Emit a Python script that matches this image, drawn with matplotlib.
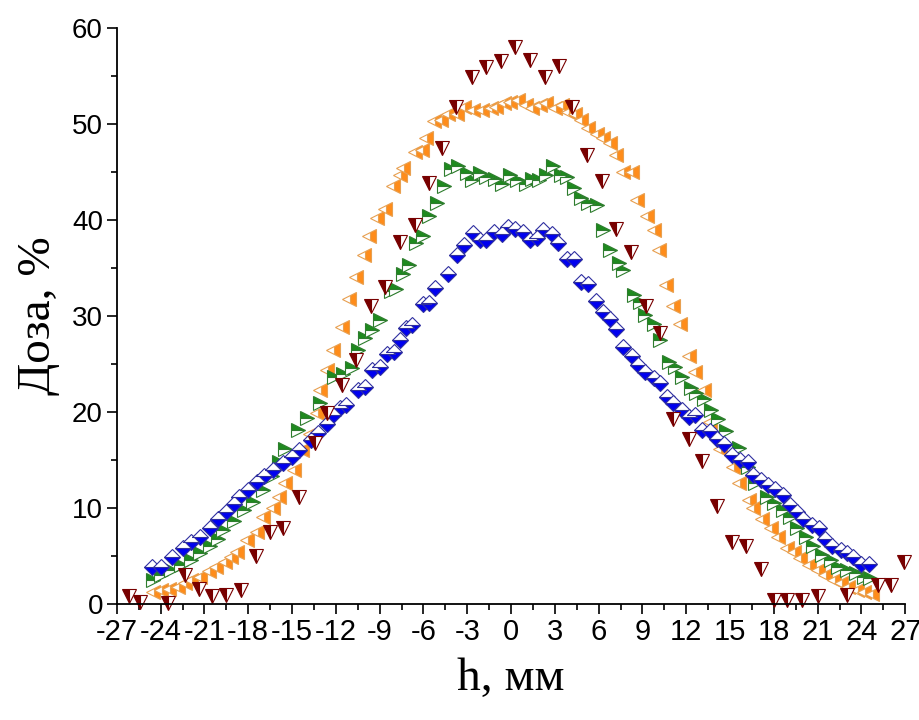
import matplotlib
matplotlib.use("Agg")
import matplotlib.pyplot as plt
from matplotlib.ticker import MultipleLocator

# blue diamonds
blueX = [-24.6, -24.0, -23.2, -22.5, -21.9, -21.3, -20.6, -20.1, -19.5, -19.0,
         -18.6, -18.0, -17.4, -16.9, -16.3, -15.6, -15.0, -14.5, -13.7, -13.2,
         -12.6, -12.2, -11.7, -11.3, -10.5, -10.0, -9.5, -9.0, -8.5, -8.0,
         -7.6, -7.2, -6.8, -6.0, -5.6, -5.2, -4.3, -3.7, -3.2, -2.6,
         -2.1, -1.7, -1.2, -0.6, -0.2, 0.3, 0.8, 1.3, 1.8, 2.2,
         2.8, 3.2, 3.8, 4.3, 4.8, 5.3, 5.8, 6.3, 6.8, 7.2,
         7.7, 8.3, 8.7, 9.2, 9.8, 10.2, 10.7, 11.1, 11.7, 12.2,
         12.6, 13.1, 13.6, 14.1, 14.6, 15.1, 15.7, 16.2, 16.6, 17.1,
         17.6, 18.1, 18.6, 19.1, 19.6, 20.0, 20.6, 21.1, 21.5, 22.0,
         22.6, 23.0, 23.4, 24.0, 24.5]
blueY = [3.9, 3.9, 4.9, 5.8, 6.5, 7.0, 7.9, 8.9, 9.6, 10.4,
         11.2, 11.9, 12.7, 13.3, 14.0, 14.7, 15.3, 16.0, 17.1, 17.8,
         18.8, 19.7, 20.4, 20.7, 22.3, 22.6, 24.4, 24.7, 26.1, 26.3,
         27.5, 28.8, 29.1, 31.3, 31.4, 32.9, 34.4, 36.4, 37.4, 38.7,
         37.9, 37.9, 38.8, 38.6, 39.3, 39.1, 38.8, 37.9, 38.1, 39.0,
         38.6, 37.6, 35.9, 35.9, 33.5, 33.3, 31.6, 30.4, 29.7, 28.7,
         26.8, 25.8, 24.9, 24.2, 23.5, 23.0, 21.6, 20.9, 20.2, 19.5,
         19.7, 18.1, 18.0, 17.2, 16.7, 15.5, 15.0, 14.8, 13.4, 12.9,
         12.4, 12.0, 11.4, 10.3, 9.6, 8.9, 8.2, 7.9, 6.8, 6.0,
         5.6, 5.3, 4.9, 4.2, 4.2]

# green right triangles
greenX = [-24.5, -24.0, -23.3, -22.6, -21.9, -21.3, -20.6, -20.1, -19.7, -19.0,
          -18.3, -17.7, -17.0, -16.4, -15.9, -15.5, -14.6, -14.0, -13.1, -12.1,
          -11.5, -10.9, -10.5, -10.0, -9.5, -9.0, -8.2, -7.9, -7.4, -7.0,
          -6.5, -6.0, -5.6, -5.1, -4.6, -4.1, -3.6, -3.0, -2.7, -2.1,
          -1.7, -1.1, -0.6, -0.1, 0.4, 1.0, 1.4, 1.9, 2.4, 2.9,
          3.4, 3.8, 4.3, 4.8, 5.3, 5.9, 6.3, 6.8, 7.4, 7.7,
          8.4, 8.8, 9.2, 9.8, 10.2, 10.8, 11.2, 11.7, 12.3, 12.7,
          13.2, 13.7, 14.2, 14.7, 15.6, 16.2, 16.7, 17.5, 18.0, 18.6,
          19.1, 19.6, 20.2, 20.7, 21.3, 21.9, 22.4, 23.0, 23.6, 24.2,
          24.6]
greenY = [2.5, 3.0, 3.5, 4.1, 4.6, 5.3, 6.0, 6.8, 7.7, 8.7,
          9.8, 10.6, 11.9, 13.3, 14.8, 16.2, 18.1, 19.4, 20.9, 23.7,
          24.0, 24.6, 26.5, 27.7, 28.5, 29.6, 32.6, 32.8, 34.4, 35.3,
          37.6, 38.3, 40.4, 41.8, 43.5, 45.3, 45.6, 44.9, 44.2, 44.9,
          44.5, 44.3, 43.8, 44.7, 44.2, 43.8, 44.3, 44.2, 44.7, 45.6,
          44.7, 44.5, 43.3, 42.3, 41.8, 41.6, 39.0, 36.9, 35.5, 34.8,
          32.2, 31.5, 30.1, 29.2, 27.5, 25.2, 24.7, 23.7, 22.5, 22.0,
          21.4, 20.2, 19.3, 18.0, 16.3, 14.3, 12.6, 11.2, 10.5, 9.8,
          9.1, 7.9, 7.0, 6.0, 5.1, 4.6, 3.9, 3.5, 3.2, 2.8,
          2.7]

# orange left triangles
orangeX = [-24.5, -24.0, -23.4, -22.8, -22.3, -21.9, -21.3, -20.7, -20.2, -19.6,
           -19.2, -18.8, -18.1, -17.4, -17.0, -16.3, -15.9, -15.5, -14.9, -14.3,
           -13.8, -13.3, -13.1, -12.6, -12.2, -11.6, -11.1, -10.6, -10.1, -9.7,
           -9.2, -8.6, -8.1, -7.6, -7.4, -6.6, -6.1, -5.8, -5.3, -4.8,
           -4.3, -3.7, -3.2, -2.6, -2.0, -1.4, -1.0, -0.5, -0.1, 0.5,
           1.0, 1.4, 2.0, 2.4, 3.0, 3.5, 3.9, 4.4, 4.8, 5.3,
           5.9, 6.3, 6.8, 7.2, 7.7, 8.3, 8.6, 9.3, 9.8, 10.1,
           10.6, 11.1, 11.6, 12.2, 12.6, 13.2, 13.6, 14.3, 15.2, 15.6,
           16.3, 16.6, 17.2, 17.8, 18.3, 18.9, 19.4, 19.8, 20.4, 21.0,
           21.5, 22.1, 22.6, 23.1, 23.7, 24.2, 24.7]
orangeY = [1.3, 1.5, 1.6, 1.8, 2.2, 2.5, 2.8, 3.4, 3.9, 4.4,
           4.9, 5.4, 6.7, 7.5, 9.1, 10.0, 11.2, 12.6, 14.0, 16.0,
           17.7, 19.9, 22.3, 24.4, 26.5, 28.9, 31.8, 34.1, 36.4, 38.3,
           40.2, 41.2, 43.6, 44.7, 45.4, 47.1, 47.3, 48.5, 50.3, 50.4,
           51.0, 51.0, 51.8, 51.5, 51.5, 51.7, 51.8, 52.2, 52.3, 52.5,
           52.0, 51.7, 52.0, 52.2, 51.7, 52.0, 51.3, 51.0, 50.4, 49.6,
           49.0, 48.5, 48.0, 46.8, 45.0, 45.0, 42.1, 40.4, 39.0, 36.9,
           33.2, 31.0, 29.2, 25.8, 24.2, 22.3, 19.0, 16.2, 14.3, 12.6,
           10.8, 10.0, 8.9, 7.9, 7.0, 5.8, 5.4, 4.8, 4.1, 3.5,
           3.0, 2.5, 2.2, 1.8, 1.5, 1.3, 1.1]

# dark red down triangles
redX = [-26.2, -25.4, -23.5, -22.3, -21.4, -20.5, -19.5, -18.5, -17.5, -16.5,
        -15.6, -14.5, -13.4, -12.6, -11.6, -10.6, -9.6, -8.6, -7.6, -6.6,
        -5.6, -4.7, -3.8, -2.7, -1.7, -0.7, 0.3, 1.3, 2.3, 3.3,
        4.2, 5.2, 6.2, 7.2, 8.2, 9.25, 10.2, 11.1, 12.2, 13.1,
        14.1, 15.1, 16.1, 17.1, 18.0, 18.9, 19.9, 21.0, 23.0, 25.1,
        26.0, 26.9]
redY = [0.8, 0.2, 0.1, 3.0, 1.6, 0.8, 0.9, 1.5, 5.0, 7.5,
        7.9, 11.2, 16.8, 19.9, 22.8, 25.4, 31.0, 33.0, 37.7, 39.5,
        43.9, 47.5, 51.8, 54.9, 55.9, 56.6, 58.0, 56.7, 54.9, 56.0,
        51.8, 46.8, 44.1, 39.1, 36.7, 31.0, 28.2, 19.3, 17.2, 14.9,
        10.2, 6.5, 6.1, 3.7, 0.4, 0.4, 0.4, 0.8, 0.9, 2.0,
        2.0, 4.4]

xTicks = list(range(-27, 28, 3))


def main():
    fig = plt.figure(figsize=(9.2, 7.2), dpi=100)
    ax = fig.add_axes([0.127, 0.161, 0.857, 0.8])

    ax.plot(orangeX, orangeY, linestyle="none", marker="<", markersize=10,
            color="#FF8C1A", markeredgecolor="#E8A050", markerfacecoloralt="white",
            fillstyle="right", markeredgewidth=0.8, clip_on=False)
    ax.plot(greenX, greenY, linestyle="none", marker=">", markersize=10,
            color="#1E8A1E", markeredgecolor="#2E7D2E", markerfacecoloralt="white",
            fillstyle="top", markeredgewidth=0.8, clip_on=False)
    ax.plot(blueX, blueY, linestyle="none", marker="D", markersize=8.5,
            color="#0000F0", markeredgecolor="#3030A0", markerfacecoloralt="white",
            fillstyle="bottom", markeredgewidth=0.8, clip_on=False)
    ax.plot(redX, redY, linestyle="none", marker="v", markersize=10,
            color="#780000", markeredgecolor="#780000", markerfacecoloralt="white",
            fillstyle="left", markeredgewidth=0.8, clip_on=False)

    ax.set_xlim(-27, 27)
    ax.set_ylim(0, 60)
    ax.set_xticks(xTicks)
    ax.set_xticklabels([str(t) for t in xTicks])
    ax.xaxis.set_minor_locator(MultipleLocator(1.5))
    ax.yaxis.set_major_locator(MultipleLocator(10))
    ax.yaxis.set_minor_locator(MultipleLocator(5))

    for side in ["top", "right"]:
        ax.spines[side].set_visible(False)
    for side in ["left", "bottom"]:
        ax.spines[side].set_linewidth(1.3)

    ax.tick_params(which="major", direction="out", length=7, width=1.2,
                   labelsize=20, pad=3)
    ax.tick_params(which="minor", direction="out", length=4, width=1.2)
    for lab in ax.get_xticklabels() + ax.get_yticklabels():
        lab.set_fontfamily("Liberation Sans")
    for lab in ax.get_xticklabels():
        lab.set_fontsize(21)

    ax.set_xlabel("h, мм", fontsize=34, fontfamily="Liberation Serif")
    ax.set_ylabel("Доза, %", fontsize=34, fontfamily="Liberation Serif")
    ax.xaxis.set_label_coords(0.5, -0.092)
    ax.yaxis.set_label_coords(-0.072, 0.5)

    plt.savefig("out.png", dpi=100)


if __name__ == "__main__":
    main()
